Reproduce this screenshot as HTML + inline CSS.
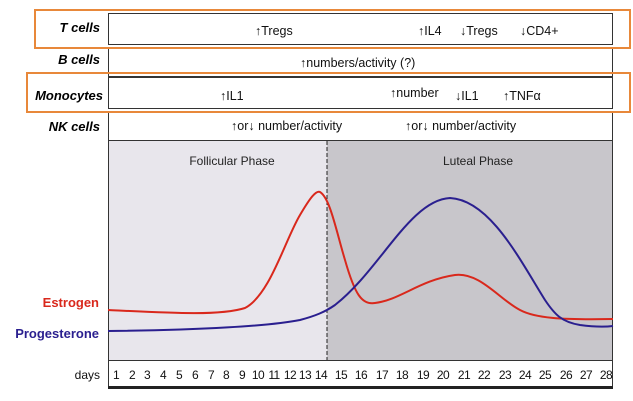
<!DOCTYPE html>
<html><head><style>
body{margin:0;width:633px;height:401px;background:#fff;font-family:"Liberation Sans",sans-serif;position:relative;overflow:hidden}
.l{position:absolute;font-weight:bold;font-style:italic;font-size:13px;text-align:right;width:100px;line-height:16px}
.t{position:absolute;font-size:12.5px;color:#111;white-space:nowrap}
.row{position:absolute;left:108px;width:505px;border:1px solid #333;box-sizing:border-box;background:#fff}
.ob{position:absolute;border:2.5px solid #e8883a;box-sizing:border-box}
</style></head><body>
<div class="row" style="top:13px;height:32px"></div>
<div class="row" style="top:47px;height:30px"></div>
<div class="row" style="top:77px;height:32px"></div>
<div class="row" style="top:111px;height:30px"></div>
<div class="l" style="left:0;top:20px">T cells</div>
<div class="l" style="left:0;top:52px">B cells</div>
<div class="l" style="left:3px;top:88px">Monocytes</div>
<div class="l" style="left:0;top:119px">NK cells</div>
<div class="t" style="left:255px;top:24px">↑Tregs</div>
<div class="t" style="left:418px;top:24px">↑IL4</div>
<div class="t" style="left:460px;top:24px">↓Tregs</div>
<div class="t" style="left:520px;top:24px">↓CD4+</div>
<div class="t" style="left:300px;top:56px">↑numbers/activity (?)</div>
<div class="t" style="left:220px;top:89px">↑IL1</div>
<div class="t" style="left:390px;top:86px">↑number</div>
<div class="t" style="left:455px;top:89px">↓IL1</div>
<div class="t" style="left:503px;top:89px">↑TNFα</div>
<div class="t" style="left:231px;top:119px">↑or↓ number/activity</div>
<div class="t" style="left:405px;top:119px">↑or↓ number/activity</div>
<svg style="position:absolute;left:0;top:0" width="633" height="401">
<rect x="108" y="141" width="219" height="219" fill="#e8e6ec"/>
<rect x="327" y="141" width="286" height="219" fill="#c8c6cb"/>
<line x1="108.5" y1="141" x2="108.5" y2="388" stroke="#333"/>
<line x1="612.5" y1="141" x2="612.5" y2="388" stroke="#333"/>
<line x1="327" y1="141" x2="327" y2="360" stroke="#222" stroke-dasharray="4,2"/>
<path d="M108,310 C170,313 220,316 245,308 C270,295 285,240 300,215 C310,198 316,190 320,192 C330,198 336,230 345,260 C355,295 362,305 375,303 C400,300 420,280 455,275 C480,272 500,300 520,310 C535,318 560,320 613,319" fill="none" stroke="#d9281c" stroke-width="2"/>
<path d="M108,331 C200,330 270,326 300,320 C315,316 325,312 335,305 C380,270 410,200 450,198 C490,200 520,260 545,300 C555,315 562,322 580,325 C595,327 605,327 613,326" fill="none" stroke="#2a1f8f" stroke-width="2"/>
<rect x="108.5" y="360.5" width="504" height="26" fill="#fff" stroke="#333"/>
<line x1="108" y1="387.5" x2="613" y2="387.5" stroke="#222" stroke-width="3"/>
<g font-family="Liberation Sans" font-size="12" fill="#111" text-anchor="middle" letter-spacing="-0.6">
<text x="116" y="379">1</text><text x="132" y="379">2</text><text x="147" y="379">3</text><text x="163" y="379">4</text><text x="179" y="379">5</text><text x="195" y="379">6</text><text x="211" y="379">7</text><text x="226" y="379">8</text><text x="242" y="379">9</text><text x="258" y="379">10</text><text x="274" y="379">11</text><text x="290" y="379">12</text><text x="305" y="379">13</text><text x="321" y="379">14</text><text x="341" y="379">15</text><text x="361" y="379">16</text><text x="382" y="379">17</text><text x="402" y="379">18</text><text x="423" y="379">19</text><text x="443" y="379">20</text><text x="464" y="379">21</text><text x="484" y="379">22</text><text x="505" y="379">23</text><text x="525" y="379">24</text><text x="545" y="379">25</text><text x="566" y="379">26</text><text x="586" y="379">27</text><text x="606" y="379">28</text>
</g>
<text x="100" y="379" font-family="Liberation Sans" font-size="12" fill="#111" text-anchor="end">days</text>
<text x="232" y="165" font-family="Liberation Sans" font-size="12" fill="#222" text-anchor="middle">Follicular Phase</text>
<text x="478" y="165" font-family="Liberation Sans" font-size="12" fill="#222" text-anchor="middle">Luteal Phase</text>
<text x="99" y="307" font-family="Liberation Sans" font-size="13" font-weight="bold" fill="#d9281c" text-anchor="end">Estrogen</text>
<text x="99" y="338" font-family="Liberation Sans" font-size="13" font-weight="bold" fill="#2a1f8f" text-anchor="end">Progesterone</text>
</svg>
<div class="ob" style="left:34px;top:9px;width:597px;height:40px"></div>
<div class="ob" style="left:26px;top:72px;width:605px;height:41px"></div>
</body></html>
